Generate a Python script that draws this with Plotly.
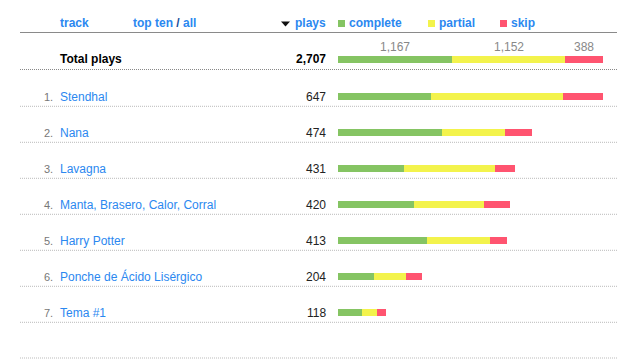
import plotly.graph_objects as go

# ---- data ----
tracks = ["Stendhal", "Nana", "Lavagna", "Manta, Brasero, Calor, Corral",
          "Harry Potter", "Ponche de Ácido Lisérgico", "Tema #1"]
plays = [647, 474, 431, 420, 413, 204, 118]
complete = [227, 255, 162, 186, 217, 87, 59]
partial = [322, 152, 222, 171, 153, 80, 37]
skip = [98, 67, 47, 63, 43, 37, 22]
total_label = "Total plays"
total_plays = 2707
total_parts = [1167, 1152, 388]
series_names = ["complete", "partial", "skip"]
colors = ["#85C463", "#F3F34C", "#FF5470"]
header_labels = ["track", "top ten / all", "plays"]

# ---- layout constants (pixels) ----
W, H = 617, 359
BLUE = "#2B88F0"
FONT = "Liberation Sans, Arial, sans-serif"
bar_x0, bar_x1 = 338, 603
row0_px, row_h = 96.5, 36.0
total_idx = -1.03
bar_thick = 7 / row_h
SH = 2  # annotation padding compensation

def px_to_idx(p):
    return (p - row0_px) / row_h

def px(x):
    return x / W

fig = go.Figure()
n = len(tracks)
idx = list(range(n))
series = [complete, partial, skip]
for name, vals, col in zip(series_names, series, colors):
    fig.add_trace(go.Bar(y=idx, x=vals, orientation="h", name=name,
                         marker=dict(color=col, line=dict(width=0)),
                         width=bar_thick, xaxis="x", yaxis="y",
                         hoverinfo="x+name", showlegend=False))
for name, val, col in zip(series_names, total_parts, colors):
    fig.add_trace(go.Bar(y=[total_idx], x=[val], orientation="h", name=name,
                         marker=dict(color=col, line=dict(width=0)),
                         width=bar_thick, xaxis="x2", yaxis="y",
                         hoverinfo="x+name", showlegend=False))

ann = []
shapes = []

def add_text(x, y, text, anchor, color, size=12, xref="paper", yref="paper"):
    shift = -SH if anchor == "left" else (SH if anchor == "right" else 0)
    ann.append(dict(x=x, y=y, xref=xref, yref=yref, text=text, xanchor=anchor,
                    yanchor="middle", showarrow=False, xshift=shift,
                    font=dict(color=color, size=size, family=FONT)))

# header
hy = 1 - 23 / H
add_text(px(60), hy, "<b>" + header_labels[0] + "</b>", "left", BLUE)
t1, t2 = header_labels[1].split(" / ")
add_text(px(133), hy, f"<b>{t1} <span style='color:#1a4f9a'>/</span> {t2}</b>", "left", BLUE)
add_text(px(325.5), hy, "<b>" + header_labels[2] + "</b>", "right", BLUE)
shapes.append(dict(type="path", xref="paper", yref="paper",
                   path=f"M {px(281)} {1-21.5/H} L {px(290)} {1-21.5/H} L {px(285.5)} {1-26.5/H} Z",
                   fillcolor="#111", line=dict(width=0)))
leg_pos = [338, 428, 500]
for lx, name, col in zip(leg_pos, series_names, colors):
    shapes.append(dict(type="rect", xref="paper", yref="paper",
                       x0=px(lx), x1=px(lx + 7), y0=1 - 27 / H, y1=1 - 20 / H,
                       fillcolor=col, line=dict(width=0)))
    add_text(px(lx + 11), hy, f"<b>{name}</b>", "left", BLUE)
shapes.append(dict(type="line", xref="paper", yref="paper", x0=px(20), x1=1,
                   y0=1 - 32.5 / H, y1=1 - 32.5 / H, line=dict(color="#8a8a8a", width=1.2)))

# total row
add_text(px(60), total_idx, f"<b>{total_label}</b>", "left", "#000", yref="y")
add_text(px(325.5), total_idx, f"<b>{total_plays:,}</b>", "right", "#000", yref="y")
cum = 0
for v in total_parts:
    add_text(cum + v / 2, px_to_idx(46.5), f"{v:,}", "center", "#888", xref="x2", yref="y")
    cum += v
shapes.append(dict(type="line", xref="paper", yref="y", x0=px(20), x1=1,
                   y0=px_to_idx(69.5), y1=px_to_idx(69.5),
                   line=dict(color="#888", width=1, dash="1px,1px")))

# track rows
for i, (t, p) in enumerate(zip(tracks, plays)):
    add_text(px(52.5), i, f"{i+1}.", "right", "#777", size=11, yref="y")
    add_text(px(60), i, t, "left", BLUE, yref="y")
    add_text(px(325.5), i, str(p), "right", "#222", yref="y")
for i in range(n + 1):
    yy = i + 9.8 / row_h
    if i == n:
        yy = px_to_idx(358)
    shapes.append(dict(type="line", xref="paper", yref="y", x0=px(20), x1=1,
                       y0=yy, y1=yy, line=dict(color="#bbb", width=1, dash="1px,1px")))

fig.update_layout(
    width=W, height=H, margin=dict(l=0, r=0, t=0, b=0),
    paper_bgcolor="white", plot_bgcolor="white",
    barmode="stack", showlegend=False,
    xaxis=dict(domain=[px(bar_x0), px(bar_x1)], range=[0, max(plays)],
               visible=False, fixedrange=True),
    xaxis2=dict(domain=[px(bar_x0), px(bar_x1)], range=[0, total_plays],
                overlaying="x", visible=False, fixedrange=True),
    yaxis=dict(range=[px_to_idx(H), px_to_idx(0)], visible=False, fixedrange=True),
    annotations=ann, shapes=shapes,
    font=dict(family=FONT),
)
fig.write_html("out.html", config={"displayModeBar": False},
               post_script="document.body.style.margin='0';document.body.style.overflow='hidden';")
